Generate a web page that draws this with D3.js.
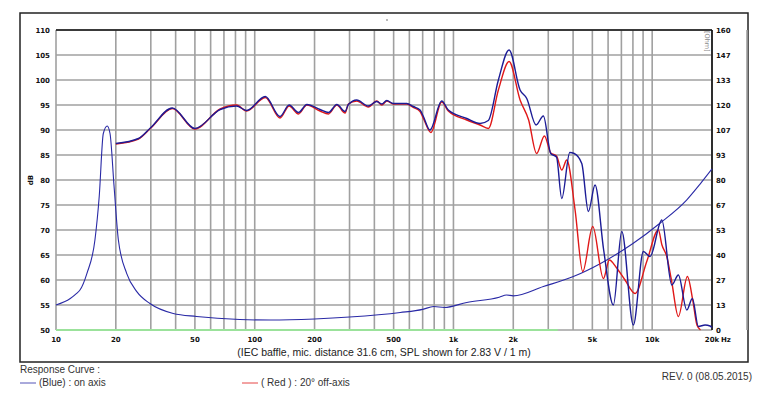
<!DOCTYPE html>
<html>
<head>
<meta charset="utf-8">
<script src="https://cdn.jsdelivr.net/npm/d3@7"></script>
<style>
  body { margin: 0; background: #fff; }
  svg { display: block; }
  .tick { font: bold 7px "DejaVu Sans", Verdana, sans-serif; fill: #111; }
  .note { font: 10.5px "Liberation Sans", Arial, sans-serif; fill: #222; }
  .legend { font: 10px "Liberation Sans Narrow", "Arial Narrow", sans-serif; fill: #333; }
</style>
</head>
<body>
<script>
// ---- data ----
const dbTicks = [50, 55, 60, 65, 70, 75, 80, 85, 90, 95, 100, 105, 110]
const ohmLabels = ['0', '13', '27', '40', '53', '67', '80', '93', '107', '120', '133', '147', '160']
const freqTicks = [10, 20, 50, 100, 200, 500, 1000, 2000, 5000, 10000, 20000]
const freqLabels = ['10', '20', '50', '100', '200', '500', '1k', '2k', '5k', '10k', '20k']

// on axis (blue)
const blueFreq = [20, 26, 30, 38.5, 50, 67, 81, 91, 113, 134, 149, 166, 183, 213, 235, 259, 285, 296, 326,
  373, 411, 436, 462, 498, 582, 628, 679, 706, 762, 873, 942, 1167, 1361, 1498, 1683, 1905, 2164, 2338,
  2604, 2835, 3088, 3300, 3508, 3850, 4050, 4423, 4774, 5159, 5700, 6378, 7031, 8041, 9031, 9759, 11177,
  12552, 13546, 14935, 15934, 17080, 18460, 19560, 20000]
const blueSpl = [87.3, 88.3, 90.5, 94.4, 90.3, 94.1, 94.8, 93.9, 96.7, 92.7, 95, 93.5, 95.1, 94.1, 93.5, 95.1,
  93.7, 95.1, 96, 94.8, 95.7, 95.2, 95.9, 95.3, 95.3, 94.7, 94, 92.7, 90, 95.8, 94, 92.3, 91.3, 91.9, 100, 106,
  98, 96.3, 91, 92.8, 85.3, 84.6, 76.3, 85.5, 85.3, 83.3, 73.7, 79, 66, 55, 69.7, 51, 65.7, 64.7, 72,
  59, 61, 54, 56.3, 50.7, 51, 50.8, 50.5]

// 20 deg off axis (red)
const redFreq = [20, 26, 30, 38.5, 50, 67, 81, 91, 113, 134, 149, 166, 183, 213, 235, 259, 285, 296, 326,
  373, 411, 436, 462, 498, 582, 628, 679, 706, 770, 873, 942, 1167, 1361, 1498, 1683, 1905, 2164, 2390,
  2620, 2870, 3088, 3300, 3508, 3717, 4093, 4474, 5023, 5682, 6089, 6600, 7300, 8204, 9392, 10745, 11200,
  11843, 12500, 13546, 15040, 16000, 16800, 17500]
const redSpl = [87.2, 88.2, 90.4, 94.3, 90.2, 94.2, 95, 93.8, 96.5, 92.4, 94.8, 93.2, 95, 93.8, 93.2, 95,
  93.4, 95.2, 95.8, 94.6, 95.8, 95, 95.8, 95.2, 95.2, 94.5, 93.7, 92.3, 89.5, 95.6, 93.8, 92, 91, 90.3, 98, 103.7,
  96, 92, 85.3, 88.8, 85.4, 84.8, 82, 84, 74, 61.7, 70.7, 60.3, 64, 62.5, 60, 57.3, 63.7, 70, 67,
  64.7, 60, 52.7, 60.7, 56, 51, 50]

// impedance (right axis units)
const impFreq = [10, 11.8, 12.7, 13.2, 14.3, 15.7, 16.5, 17.3, 18.1, 18.7, 19.6, 20.6, 22.7, 25.5, 29.7,
  38.9, 51, 84, 120, 200, 300, 540, 700, 795, 900, 1167, 1700, 1850, 2000, 2835, 4012, 5500, 8000,
  10900, 14900, 17500, 20000]
const impedance = [13.3, 16.8, 19.5, 21.3, 30.1, 48, 71.2, 104.8, 108.8, 104.8, 76.5, 48, 30.1, 20.5, 14.1,
  8.8, 7.2, 5.6, 5.3, 5.9, 6.9, 9.3, 11, 12.5, 12, 14.7, 17.5, 18.7, 18.2, 23.2, 28.5, 35.5, 46.1,
  56.8, 69.3, 78.1, 85.9]

const W = 765, H = 398
const svg = d3.select('body').append('svg').attr('width', W).attr('height', H)

const x = d3.scaleLog().domain([10, 20000]).range([56, 712])
const y = d3.scaleLinear().domain([50, 110]).range([330, 30])
const yR = d3.scaleLinear().domain([0, 160]).range([330, 30])

// outer frame
svg.append('rect').attr('x', 20).attr('y', 13).attr('width', 728).attr('height', 349)
  .attr('fill', 'none').attr('stroke', '#222').attr('stroke-width', 1.5)
svg.append('circle').attr('cx', 387).attr('cy', 20).attr('r', 0.9).attr('fill', '#999')

// grid
const gridF = []
for (let d = 10; d <= 10000; d *= 10)
  for (let m = 1; m <= 9; m++) gridF.push(d * m)
gridF.push(20000)

svg.append('g').selectAll('line').data(gridF).join('line')
  .attr('x1', d => x(d)).attr('x2', d => x(d))
  .attr('y1', y(110)).attr('y2', y(50))
  .attr('stroke', '#a0a0a0').attr('stroke-width', 1.6)

svg.append('g').selectAll('line').data(dbTicks).join('line')
  .attr('x1', x(10)).attr('x2', x(20000))
  .attr('y1', d => y(d)).attr('y2', d => y(d))
  .attr('stroke', '#a0a0a0').attr('stroke-width', 1.6)

// green base line
svg.append('line').attr('x1', x(10)).attr('x2', x(3350)).attr('y1', y(50)).attr('y2', y(50))
  .attr('stroke', '#9be29b').attr('stroke-width', 2)

// top and right borders
svg.append('line').attr('x1', x(10)).attr('x2', x(20000)).attr('y1', y(110)).attr('y2', y(110))
  .attr('stroke', '#111').attr('stroke-width', 1.6)
svg.append('line').attr('x1', x(20000)).attr('x2', x(20000)).attr('y1', y(110)).attr('y2', y(50))
  .attr('stroke', '#111').attr('stroke-width', 1.6)

// axis labels
svg.append('g').selectAll('text').data(dbTicks).join('text')
  .attr('class', 'tick').attr('x', 50).attr('y', d => y(d) + 2.5)
  .attr('text-anchor', 'end').text(d => d)

svg.append('g').selectAll('text').data(ohmLabels).join('text')
  .attr('class', 'tick').attr('x', 716).attr('y', (d, i) => yR(i * 160 / 12) + 2.5)
  .text(d => d)

svg.append('g').selectAll('text').data(freqTicks).join('text')
  .attr('class', 'tick').attr('x', d => x(d)).attr('y', 342)
  .attr('text-anchor', 'middle').text((d, i) => freqLabels[i])
svg.append('text').attr('class', 'tick').attr('x', x(20000) + 9).attr('y', 342).text('Hz')

svg.append('text').attr('class', 'tick').attr('transform', 'translate(33,180) rotate(-90)')
  .attr('text-anchor', 'middle').text('dB')

svg.append('text').attr('transform', `translate(${x(20000) - 7},31) rotate(90)`)
  .style('font', '6.5px "DejaVu Sans", sans-serif').attr('fill', '#888').text('[Ohm]')

svg.append('text').attr('class', 'note').attr('x', 384).attr('y', 356)
  .attr('text-anchor', 'middle').text('(IEC baffle, mic. distance 31.6 cm, SPL shown for 2.83 V / 1 m)')

// curves
const line = d3.line().curve(d3.curveMonotoneX)

svg.append('path')
  .attr('d', line(impFreq.map((f, i) => [x(f), yR(impedance[i])])))
  .attr('fill', 'none').attr('stroke', '#2a2aa6').attr('stroke-width', 1.1)

svg.append('path')
  .attr('d', line(redFreq.map((f, i) => [x(f), y(redSpl[i])])))
  .attr('fill', 'none').attr('stroke', '#e01818').attr('stroke-width', 1.4)

svg.append('path')
  .attr('d', line(blueFreq.map((f, i) => [x(f), y(blueSpl[i])])))
  .attr('fill', 'none').attr('stroke', '#1c1c96').attr('stroke-width', 1.4)

// legend
svg.append('text').attr('class', 'legend').attr('x', 20).attr('y', 373).text('Response Curve :')
svg.append('line').attr('x1', 20).attr('x2', 36).attr('y1', 383).attr('y2', 383)
  .attr('stroke', '#2a2aa6').attr('stroke-width', 0.8)
svg.append('text').attr('class', 'legend').attr('x', 39).attr('y', 386).text('(Blue) : on axis')
svg.append('line').attr('x1', 242).attr('x2', 258).attr('y1', 383).attr('y2', 383)
  .attr('stroke', '#e01818').attr('stroke-width', 0.8)
svg.append('text').attr('class', 'legend').attr('x', 261).attr('y', 386).text('( Red ) : 20° off-axis')
svg.append('text').attr('class', 'legend').attr('x', 752).attr('y', 380)
  .attr('text-anchor', 'end').text('REV. 0 (08.05.2015)')
</script>
</body>
</html>
